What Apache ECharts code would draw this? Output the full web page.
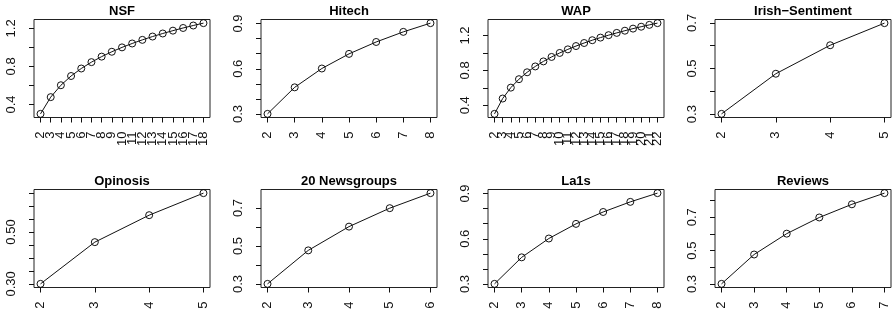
<!DOCTYPE html>
<html>
<head>
<meta charset="utf-8">
<script src="https://cdn.jsdelivr.net/npm/echarts@6/dist/echarts.min.js"></script>
<style>
html,body{margin:0;padding:0;background:#fff;}
#chart{width:894px;height:320px;}
</style>
</head>
<body>
<div id="chart"></div>
<script>
// ---- data ----
var titles = ["NSF", "Hitech", "WAP", "Irish\u2212Sentiment", "Opinosis", "20 Newsgroups", "La1s", "Reviews"];

var nsfX = [2,3,4,5,6,7,8,9,10,11,12,13,14,15,16,17,18];
var nsfY = [0.301,0.477,0.602,0.699,0.778,0.845,0.903,0.954,1.000,1.041,1.079,1.114,1.146,1.176,1.204,1.230,1.255];

var hitechX = [2,3,4,5,6,7,8];
var hitechY = [0.301,0.477,0.602,0.699,0.778,0.845,0.903];

var wapX = [2,3,4,5,6,7,8,9,10,11,12,13,14,15,16,17,18,19,20,21,22];
var wapY = [0.301,0.477,0.602,0.699,0.778,0.845,0.903,0.954,1.000,1.041,1.079,1.114,1.146,1.176,1.204,1.230,1.255,1.279,1.301,1.322,1.342];

var irishX = [2,3,4,5];
var irishY = [0.301,0.477,0.602,0.699];

var opinosisX = [2,3,4,5];
var opinosisY = [0.300,0.461,0.565,0.650];

var newsX = [2,3,4,5,6];
var newsY = [0.301,0.477,0.602,0.699,0.778];

var la1sX = [2,3,4,5,6,7,8];
var la1sY = [0.301,0.477,0.602,0.699,0.778,0.845,0.903];

var reviewsX = [2,3,4,5,6,7];
var reviewsY = [0.301,0.477,0.602,0.699,0.778,0.845];

// y tick positions and labelled ticks
var nsfTicks = [0.4,0.6,0.8,1.0,1.2];          var nsfLabels = ["0.4","0.8","1.2"];
var hitechTicks = [0.3,0.4,0.5,0.6,0.7,0.8,0.9]; var hitechLabels = ["0.3","0.6","0.9"];
var wapTicks = [0.4,0.6,0.8,1.0,1.2];          var wapLabels = ["0.4","0.8","1.2"];
var irishTicks = [0.3,0.4,0.5,0.6,0.7];        var irishLabels = ["0.3","0.5","0.7"];
var opinosisTicks = [0.30,0.35,0.40,0.45,0.50,0.55,0.60,0.65]; var opinosisLabels = ["0.30","0.50"];
var newsTicks = [0.3,0.4,0.5,0.6,0.7];         var newsLabels = ["0.3","0.5","0.7"];
var la1sTicks = [0.3,0.4,0.5,0.6,0.7,0.8,0.9];   var la1sLabels = ["0.3","0.6","0.9"];
var reviewsTicks = [0.3,0.4,0.5,0.6,0.7,0.8];    var reviewsLabels = ["0.3","0.5","0.7"];

var panels = [
  {x: nsfX, y: nsfY, t: nsfTicks, l: nsfLabels},
  {x: hitechX, y: hitechY, t: hitechTicks, l: hitechLabels},
  {x: wapX, y: wapY, t: wapTicks, l: wapLabels},
  {x: irishX, y: irishY, t: irishTicks, l: irishLabels},
  {x: opinosisX, y: opinosisY, t: opinosisTicks, l: opinosisLabels},
  {x: newsX, y: newsY, t: newsTicks, l: newsLabels},
  {x: la1sX, y: la1sY, t: la1sTicks, l: la1sLabels},
  {x: reviewsX, y: reviewsY, t: reviewsTicks, l: reviewsLabels}
];

// ---- layout ----
var FONT = "'Liberation Sans', Arial, Helvetica, sans-serif";
var colLeft = [34, 261, 488, 715];
var rowTop = [19.5, 189.5];
var boxW = 176, boxH = 98;
var INK = '#111';

var grids = [], xAxes = [], yAxes = [], series = [], titleList = [];

function ext(arr) {
  var mn = Math.min.apply(null, arr), mx = Math.max.apply(null, arr);
  var d = (mx - mn) * 0.04;
  return [mn - d, mx + d];
}

function xLabelCfg(vals) {
  return {
    show: true, rotate: 90, margin: 14, color: INK, fontSize: 13, fontFamily: FONT,
    customValues: vals, hideOverlap: false, showMinLabel: true, showMaxLabel: true,
    formatter: function (v) { return String(Math.round(v)); }
  };
}

panels.forEach(function (p, i) {
  var r = Math.floor(i / 4), c = i % 4;
  var left = colLeft[c], top = rowTop[r];
  grids.push({
    left: left, top: top, width: boxW, height: boxH,
    show: true, borderColor: '#222', borderWidth: 1, backgroundColor: 'transparent',
    containLabel: false
  });
  var xr = ext(p.x), yr = ext(p.y);
  var evenVals = p.x.filter(function (v, k) { return k % 2 === 0; });
  var oddVals = p.x.filter(function (v, k) { return k % 2 === 1; });
  var mainIdx = xAxes.length;
  // main x axis: all ticks, every other label
  xAxes.push({
    type: 'value', gridIndex: i, min: xr[0], max: xr[1], position: 'bottom',
    axisLine: {show: false},
    splitLine: {show: false},
    axisTick: {show: true, length: 5, lineStyle: {color: INK, width: 1}, customValues: p.x},
    axisLabel: xLabelCfg(evenVals)
  });
  // companion x axis carrying the remaining labels (so none are auto-hidden)
  xAxes.push({
    type: 'value', gridIndex: i, min: xr[0], max: xr[1], position: 'bottom', offset: 0,
    axisLine: {show: false},
    splitLine: {show: false},
    axisTick: {show: false},
    axisLabel: xLabelCfg(oddVals.length ? oddVals : evenVals)
  });
  var labVals = p.l.map(Number);
  var labStr = p.l;
  yAxes.push({
    type: 'value', gridIndex: i, min: yr[0], max: yr[1],
    axisLine: {show: false},
    splitLine: {show: false},
    axisTick: {show: true, length: 5, lineStyle: {color: INK, width: 1}, customValues: p.t},
    axisLabel: {
      show: true, rotate: 90, margin: 16, color: INK, fontSize: 13, fontFamily: FONT,
      customValues: labVals, hideOverlap: false, showMinLabel: true, showMaxLabel: true,
      formatter: function (v) {
        for (var k = 0; k < labVals.length; k++) {
          if (Math.abs(labVals[k] - v) < 1e-9) return labStr[k];
        }
        return '';
      }
    }
  });
  series.push({
    type: 'line', xAxisIndex: mainIdx, yAxisIndex: i,
    data: p.x.map(function (xv, k) { return [xv, p.y[k]]; }),
    symbol: 'circle', symbolSize: 7,
    itemStyle: {color: 'rgba(0,0,0,0)', borderColor: INK, borderWidth: 1},
    lineStyle: {color: INK, width: 1},
    silent: true, animation: false, clip: false
  });
  titleList.push({
    text: titles[i], left: left + boxW / 2, top: top - 15, textAlign: 'center', padding: 0,
    textStyle: {fontFamily: FONT, fontSize: 13, fontWeight: 'bold', color: '#000'}
  });
});

var chart = echarts.init(document.getElementById('chart'), null, {renderer: 'canvas'});
chart.setOption({
  animation: false,
  backgroundColor: '#fff',
  title: titleList,
  grid: grids,
  xAxis: xAxes,
  yAxis: yAxes,
  series: series
});
</script>
</body>
</html>
